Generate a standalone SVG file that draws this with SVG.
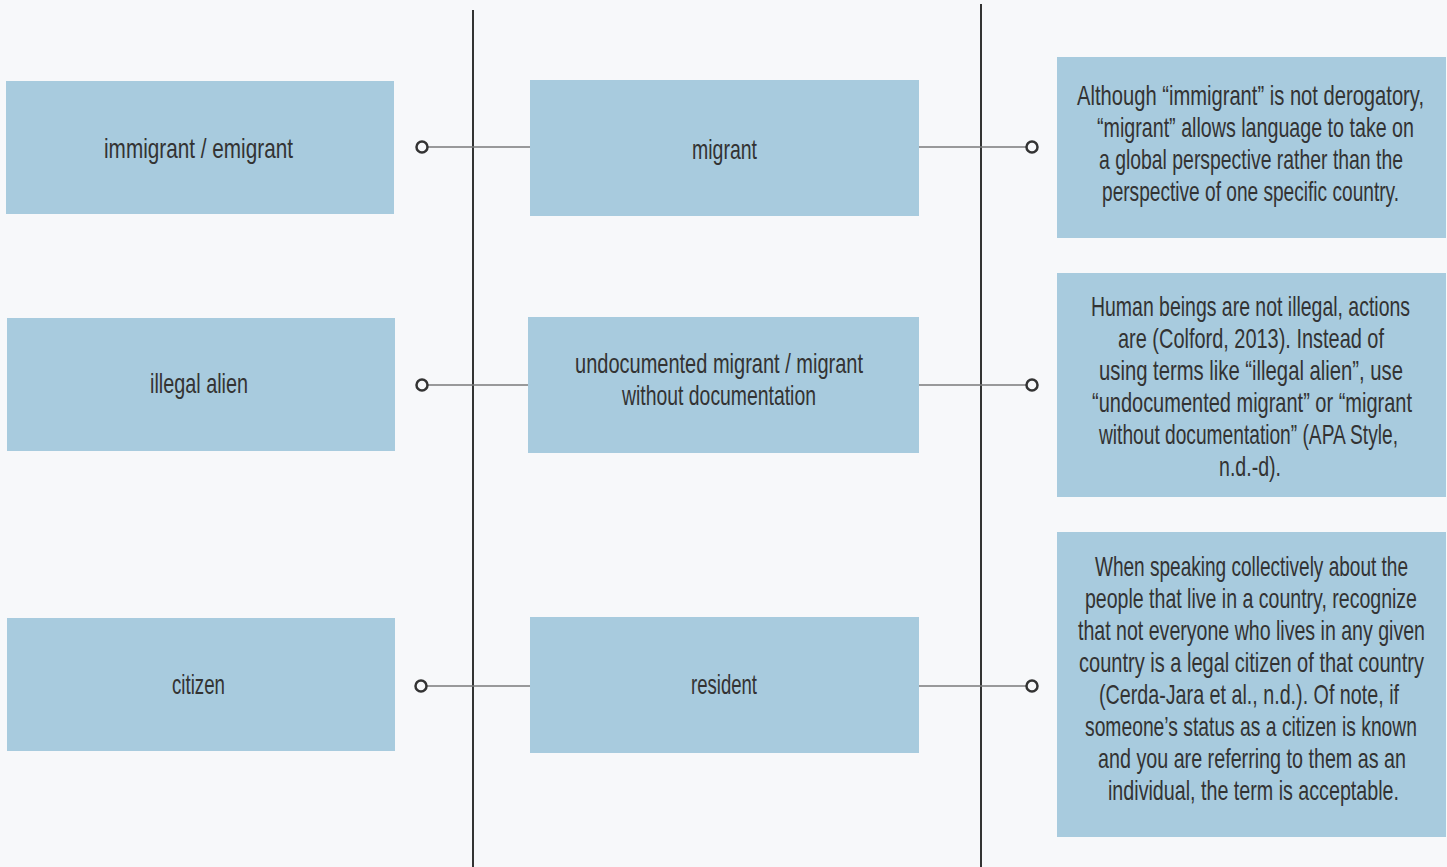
<svg xmlns="http://www.w3.org/2000/svg" width="1447" height="867" viewBox="0 0 1447 867">
<style>
.box{fill:#a8cbde}
.t{font-family:"Liberation Sans Narrow","Liberation Sans",Arial,sans-serif;font-size:28px;fill:#333333;text-anchor:middle}
.link{stroke:#7a7a7a;stroke-width:1.5;fill:none}
.axis{stroke:#333;stroke-width:2}
.dot{fill:#f7f8fa;stroke:#333;stroke-width:2.5}
</style>
<rect width="1447" height="867" fill="#f7f8fa"/>
<g id="connectors">
<line class="axis" x1="473" y1="10" x2="473" y2="867"/>
<line class="axis" x1="981" y1="4" x2="981" y2="867"/>
<line class="link" x1="422" y1="147" x2="530" y2="147"/>
<line class="link" x1="919" y1="147" x2="1032" y2="147"/>
<line class="link" x1="422" y1="385" x2="528" y2="385"/>
<line class="link" x1="919" y1="385" x2="1032" y2="385"/>
<line class="link" x1="421" y1="686" x2="530" y2="686"/>
<line class="link" x1="919" y1="686" x2="1032" y2="686"/>
<circle class="dot" cx="422" cy="147" r="5.5"/>
<circle class="dot" cx="1032" cy="147" r="5.5"/>
<circle class="dot" cx="422" cy="385" r="5.5"/>
<circle class="dot" cx="1032" cy="385" r="5.5"/>
<circle class="dot" cx="421" cy="686" r="5.5"/>
<circle class="dot" cx="1032" cy="686" r="5.5"/>
</g>
<g id="n-immigrant"><rect class="box" x="6" y="81" width="388" height="133"/><text class="t" x="198.5" y="158" textLength="189" lengthAdjust="spacingAndGlyphs">immigrant / emigrant</text></g>
<g id="n-illegal"><rect class="box" x="7" y="318" width="388" height="133"/><text class="t" x="199" y="393" textLength="98" lengthAdjust="spacingAndGlyphs">illegal alien</text></g>
<g id="n-citizen"><rect class="box" x="7" y="618" width="388" height="133"/><text class="t" x="198.5" y="694" textLength="53" lengthAdjust="spacingAndGlyphs">citizen</text></g>
<g id="n-migrant"><rect class="box" x="530" y="80" width="389" height="136"/><text class="t" x="724.5" y="159" textLength="65" lengthAdjust="spacingAndGlyphs">migrant</text></g>
<g id="n-undocumented"><rect class="box" x="528" y="317" width="391" height="136"/><text class="t" x="719" y="373" textLength="288" lengthAdjust="spacingAndGlyphs">undocumented migrant / migrant</text><text class="t" x="719" y="405" textLength="194" lengthAdjust="spacingAndGlyphs">without documentation</text></g>
<g id="n-resident"><rect class="box" x="530" y="617" width="389" height="136"/><text class="t" x="724" y="694" textLength="66" lengthAdjust="spacingAndGlyphs">resident</text></g>
<g id="n-note1"><rect class="box" x="1057" y="57" width="389" height="181"/>
<text class="t" x="1250.5" y="105" textLength="347" lengthAdjust="spacingAndGlyphs">Although “immigrant” is not derogatory,</text>
<text class="t" x="1255.5" y="137" textLength="317" lengthAdjust="spacingAndGlyphs">“migrant” allows language to take on</text>
<text class="t" x="1251" y="169" textLength="304" lengthAdjust="spacingAndGlyphs">a global perspective rather than the</text>
<text class="t" x="1250.5" y="201" textLength="297" lengthAdjust="spacingAndGlyphs">perspective of one specific country.</text></g>
<g id="n-note2"><rect class="box" x="1057" y="273" width="389" height="224"/>
<text class="t" x="1250.5" y="316" textLength="319" lengthAdjust="spacingAndGlyphs">Human beings are not illegal, actions</text>
<text class="t" x="1251" y="348" textLength="266" lengthAdjust="spacingAndGlyphs">are (Colford, 2013). Instead of</text>
<text class="t" x="1251" y="380" textLength="304" lengthAdjust="spacingAndGlyphs">using terms like “illegal alien”, use</text>
<text class="t" x="1252" y="412" textLength="320" lengthAdjust="spacingAndGlyphs">“undocumented migrant” or “migrant</text>
<text class="t" x="1248.5" y="444" textLength="299" lengthAdjust="spacingAndGlyphs">without documentation” (APA Style,</text>
<text class="t" x="1250" y="476" textLength="62" lengthAdjust="spacingAndGlyphs">n.d.-d).</text></g>
<g id="n-note3"><rect class="box" x="1057" y="532" width="389" height="305"/>
<text class="t" x="1251.5" y="576" textLength="313" lengthAdjust="spacingAndGlyphs">When speaking collectively about the</text>
<text class="t" x="1251" y="608" textLength="332" lengthAdjust="spacingAndGlyphs">people that live in a country, recognize</text>
<text class="t" x="1251.5" y="640" textLength="347" lengthAdjust="spacingAndGlyphs">that not everyone who lives in any given</text>
<text class="t" x="1251.5" y="672" textLength="345" lengthAdjust="spacingAndGlyphs">country is a legal citizen of that country</text>
<text class="t" x="1249" y="704" textLength="300" lengthAdjust="spacingAndGlyphs">(Cerda-Jara et al., n.d.). Of note, if</text>
<text class="t" x="1251" y="736" textLength="332" lengthAdjust="spacingAndGlyphs">someone’s status as a citizen is known</text>
<text class="t" x="1252" y="768" textLength="308" lengthAdjust="spacingAndGlyphs">and you are referring to them as an</text>
<text class="t" x="1253.5" y="800" textLength="291" lengthAdjust="spacingAndGlyphs">individual, the term is acceptable.</text></g>
</svg>
